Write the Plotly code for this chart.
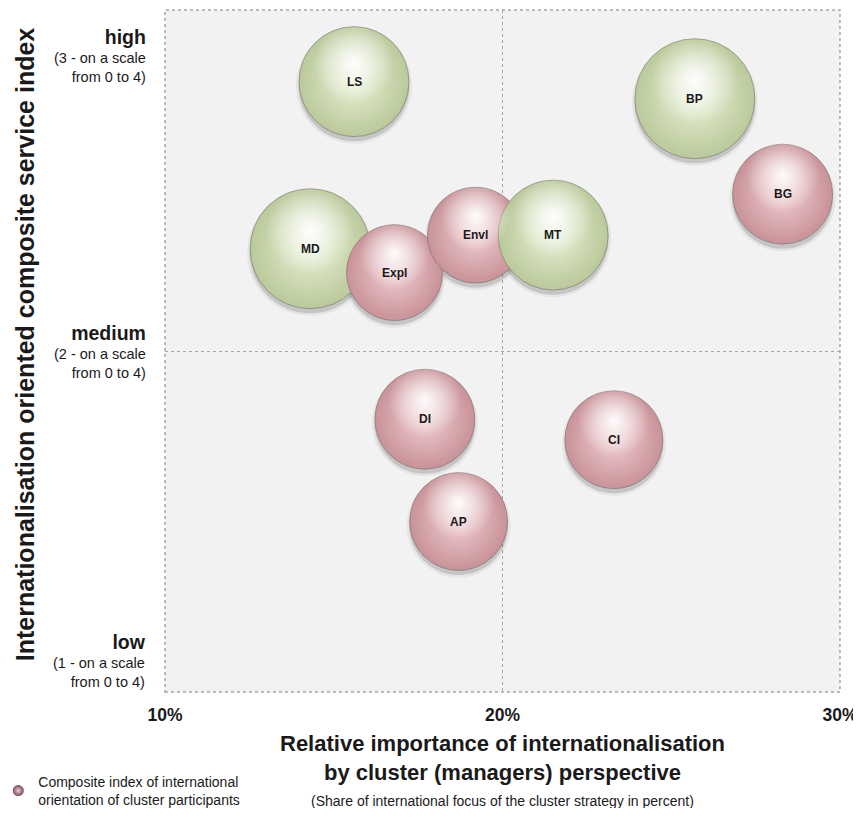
import plotly.graph_objects as go

# ---------------- data ----------------
labels = ["LS", "BP", "BG", "MD", "Expl", "Envl", "MT", "DI", "CI", "AP"]
share_pct = [15.6, 25.7, 28.3, 14.3, 16.8, 19.2, 21.5, 17.7, 23.3, 18.7]
service_index = [2.79, 2.74, 2.46, 2.30, 2.23, 2.34, 2.34, 1.80, 1.74, 1.50]
bubble_size = [110, 120, 100, 120, 96, 96, 110, 100, 98, 98]
group = ["green", "green", "pink", "green", "pink", "pink", "green", "pink", "pink", "pink"]

x_ticks = [10, 20, 30]
x_tick_text = ["10%", "20%", "30%"]
level_values = [3, 2, 1]
level_names = ["high", "medium", "low"]
level_notes = ["(3 - on a scale<br>from 0 to 4)", "(2 - on a scale<br>from 0 to 4)", "(1 - on a scale<br>from 0 to 4)"]

EDGE = {"green": "rgb(186,201,154)", "pink": "rgb(200,146,152)"}
CENTER = {"green": "rgb(232,240,214)", "pink": "rgb(240,206,209)"}

NARROW = "Liberation Sans Narrow, Arial Narrow, Liberation Sans, Arial"
ARIAL = "Liberation Sans, Arial"

shadow_shift = 0.012   # ~4px down
hl_shift = 0.055       # ~19px up

fig = go.Figure()

# shadows (primary y, slightly shifted range)
fig.add_trace(go.Scatter(
    x=share_pct, y=service_index, mode="markers", yaxis="y", showlegend=False, hoverinfo="skip",
    marker=dict(size=[s + 6 for s in bubble_size], color="rgba(90,90,90,0.12)", line=dict(width=0))))
fig.add_trace(go.Scatter(
    x=share_pct, y=service_index, mode="markers", yaxis="y", showlegend=False, hoverinfo="skip",
    marker=dict(size=[s + 1 for s in bubble_size], color="rgba(80,80,80,0.30)", line=dict(width=0))))

# main bubbles
fig.add_trace(go.Scatter(
    x=share_pct, y=service_index, mode="markers", yaxis="y2", showlegend=False,
    text=labels, hoverinfo="text",
    marker=dict(size=bubble_size, color=[EDGE[g] for g in group],
                gradient=dict(type="radial", color=[CENTER[g] for g in group]),
                line=dict(width=1, color="rgba(110,110,100,0.55)"), opacity=1)))

# highlights
fig.add_trace(go.Scatter(
    x=share_pct, y=service_index, mode="markers", yaxis="y3", showlegend=False, hoverinfo="skip",
    marker=dict(size=[s * 0.72 for s in bubble_size], color="rgba(255,255,255,0.02)",
                gradient=dict(type="radial", color="rgba(255,255,255,0.95)"),
                line=dict(width=0), opacity=1)))

# legend entry
fig.add_trace(go.Scatter(
    x=[None], y=[None], mode="markers", yaxis="y2",
    name="Composite index of international<br>orientation of cluster participants",
    marker=dict(size=11, color="rgb(120,70,90)",
                gradient=dict(type="radial", color="rgb(235,205,215)"), line=dict(width=0))))

annotations = []
for xv, yv, lab in zip(share_pct, service_index, labels):
    annotations.append(dict(x=xv, y=yv, xref="x", yref="y2", text="<b>%s</b>" % lab, showarrow=False,
                            font=dict(family=ARIAL, size=12, color="#1a1a1a")))

anchors = ["top", "middle", "bottom"]
shifts = [-14, 0, 0]
for yv, nm, note, anc, sh in zip(level_values, level_names, level_notes, anchors, shifts):
    annotations.append(dict(
        x=-0.025, xref="paper", y=yv, yref="y2", xanchor="right", yanchor=anc, yshift=sh, align="right",
        showarrow=False,
        text="<span style='font-size:19.5px'><b>%s</b></span><br><span style='font-size:14.5px'>%s</span>" % (nm, note),
        font=dict(family=ARIAL, size=14.5, color="#1a1a1a")))

annotations.append(dict(
    x=-0.231, xref="paper", y=0.51, yref="paper", textangle=-90, showarrow=False,
    text="<b>Internationalisation oriented composite service index</b>",
    font=dict(family=ARIAL, size=25, color="#1a1a1a")))

annotations.append(dict(
    x=0.5, xref="paper", y=-0.097, yref="paper", yanchor="middle", showarrow=False,
    text="<b>Relative importance of internationalisation<br>by cluster (managers) perspective</b>",
    font=dict(family=NARROW, size=22, color="#1a1a1a")))

annotations.append(dict(
    x=0.5, xref="paper", y=-0.160, yref="paper", yanchor="middle", showarrow=False,
    text="(Share of international focus of the cluster strategy in percent)",
    font=dict(family=NARROW, size=14, color="#1a1a1a")))

fig.update_layout(
    width=853, height=800,
    margin=dict(l=157, r=21, t=2, b=116, autoexpand=False),
    paper_bgcolor="white", plot_bgcolor="#f2f2f2",
    xaxis=dict(range=[10, 30], tickvals=x_ticks, ticktext=x_tick_text, automargin=False,
               ticklabeloverflow="allow",
               showgrid=True, gridcolor="#a6a6a6", griddash="dot", gridwidth=1,
               zeroline=False, showline=False, ticks="outside", ticklen=7,
               tickcolor="rgba(0,0,0,0)",
               tickfont=dict(family=NARROW, size=17.5, color="#1a1a1a", weight="bold")),
    yaxis=dict(range=[1 + shadow_shift, 3 + shadow_shift], visible=False, fixedrange=True, automargin=False),
    yaxis2=dict(range=[1, 3], overlaying="y", tickvals=[2], showgrid=True, gridcolor="#a6a6a6",
                griddash="dot", showticklabels=False, zeroline=False, showline=False, ticks="",
                automargin=False),
    yaxis3=dict(range=[1 - hl_shift, 3 - hl_shift], overlaying="y", visible=False, automargin=False),
    shapes=[dict(type="rect", xref="paper", yref="paper", x0=0, x1=1, y0=0, y1=1,
                 line=dict(color="#a6a6a6", width=1.5, dash="dot"), layer="above")],
    annotations=annotations,
    showlegend=True,
    legend=dict(x=-0.247, y=-0.145, xanchor="left", yanchor="middle", bgcolor="rgba(0,0,0,0)",
                font=dict(family=NARROW, size=14, color="#1a1a1a"), itemwidth=30),
)

fig.write_html("out.html")
